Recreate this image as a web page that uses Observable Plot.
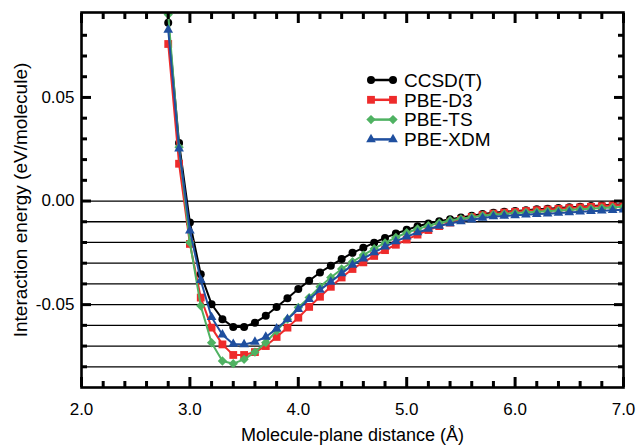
<!DOCTYPE html>
<html><head><meta charset="utf-8">
<script src="https://cdn.jsdelivr.net/npm/d3@7"></script>
<script src="https://cdn.jsdelivr.net/npm/@observablehq/plot@0.6"></script>
<style>
html,body{margin:0;padding:0;background:#fff;}
#chart svg{display:block;}
</style>
</head><body><div id="chart"></div>
<script>
// ---------- data ----------
const distance = [2.8, 2.9, 3.0, 3.1, 3.2, 3.3, 3.4, 3.5, 3.6, 3.7, 3.8, 3.9,
  4.0, 4.1, 4.2, 4.3, 4.4, 4.5, 4.6, 4.7, 4.8, 4.9,
  5.0, 5.1, 5.2, 5.3, 5.4, 5.5, 5.6, 5.7, 5.8, 5.9,
  6.0, 6.1, 6.2, 6.3, 6.4, 6.5, 6.6, 6.7, 6.8, 6.9, 7.0];
const seriesNames = ["CCSD(T)", "PBE-D3", "PBE-TS", "PBE-XDM"];
const ccsdt = [0.0861, 0.0280, -0.0103, -0.0353, -0.0498, -0.0570, -0.0608, -0.0608, -0.0587, -0.0554, -0.0511, -0.0469,
  -0.0425, -0.0385, -0.0345, -0.0312, -0.0280, -0.0250, -0.0226, -0.0201, -0.0178, -0.0157,
  -0.0139, -0.0122, -0.0108, -0.0097, -0.0088, -0.0079, -0.0071, -0.0063, -0.0057, -0.0052,
  -0.0048, -0.0044, -0.0040, -0.0037, -0.0034, -0.0030, -0.0027, -0.0024, -0.0021, -0.0018, -0.0015];
const pbeD3 = [0.0758, 0.0180, -0.0207, -0.0466, -0.0611, -0.0692, -0.0743, -0.0743, -0.0729, -0.0700, -0.0656, -0.0611,
  -0.0563, -0.0511, -0.0462, -0.0414, -0.0369, -0.0328, -0.0296, -0.0265, -0.0237, -0.0211,
  -0.0186, -0.0162, -0.0140, -0.0121, -0.0104, -0.0090, -0.0077, -0.0068, -0.0061, -0.0056,
  -0.0052, -0.0048, -0.0044, -0.0041, -0.0038, -0.0034, -0.0031, -0.0028, -0.0025, -0.0022, -0.0019];
const pbeTS = [0.0900, 0.0260, -0.0200, -0.0506, -0.0684, -0.0772, -0.0785, -0.0764, -0.0729, -0.0683, -0.0627, -0.0570,
  -0.0514, -0.0466, -0.0414, -0.0369, -0.0328, -0.0293, -0.0261, -0.0230, -0.0202, -0.0176,
  -0.0153, -0.0135, -0.0119, -0.0106, -0.0094, -0.0086, -0.0078, -0.0071, -0.0065, -0.0062,
  -0.0058, -0.0055, -0.0052, -0.0049, -0.0046, -0.0043, -0.0040, -0.0037, -0.0034, -0.0031, -0.0028];
const pbeXDM = [0.0826, 0.0253, -0.0143, -0.0382, -0.0561, -0.0645, -0.0690, -0.0692, -0.0680, -0.0656, -0.0616, -0.0570,
  -0.0522, -0.0474, -0.0429, -0.0390, -0.0349, -0.0308, -0.0278, -0.0248, -0.0220, -0.0195,
  -0.0172, -0.0152, -0.0135, -0.0120, -0.0108, -0.0098, -0.0090, -0.0082, -0.0075, -0.0072,
  -0.0069, -0.0066, -0.0063, -0.0061, -0.0058, -0.0055, -0.0052, -0.0049, -0.0047, -0.0044, -0.0042];
const gridLines = [0, -0.01, -0.02, -0.03, -0.04, -0.05, -0.06, -0.07, -0.08];
const xMajor = [2, 3, 4, 5, 6, 7];
const xMinor = [2.2, 2.4, 2.6, 2.8, 3.2, 3.4, 3.6, 3.8, 4.2, 4.4, 4.6, 4.8, 5.2, 5.4, 5.6, 5.8, 6.2, 6.4, 6.6, 6.8];
const yMajor = [-0.05, 0, 0.05];
const yMinor = [-0.08, -0.07, -0.06, -0.04, -0.03, -0.02, -0.01, 0.01, 0.02, 0.03, 0.04, 0.06, 0.07, 0.08];
const xLabel = "Molecule-plane distance (Å)";
const yLabel = "Interaction energy (eV/molecule)";

// ---------- style ----------
const W = 638, H = 445;
const mL = 81, mR = 15, mT = 12, mB = 58;
const xDom = [2, 7], yDom = [-0.09, 0.091];
const FONT = "'Liberation Sans', Arial, Helvetica, sans-serif";
const styles = [
  {values: ccsdt, color: "#000000", symbol: "circle", r: 4},
  {values: pbeD3, color: "#ee2b2b", symbol: "square", r: 4.4},
  {values: pbeTS, color: "#4fb262", symbol: "diamond2", r: 4.2},
  {values: pbeXDM, color: "#1f4f9f", symbol: "triangle", r: 3.6}
];
const series = seriesNames.map((name, k) => ({name, ...styles[k]}));

const marks = [Plot.ruleY(gridLines, {stroke: "black", strokeWidth: 1.3})];
for (const s of series) {
  const rows = distance.map((d, i) => ({d, e: s.values[i]}));
  marks.push(Plot.line(rows, {x: "d", y: "e", stroke: s.color, strokeWidth: 2, clip: true}));
  marks.push(Plot.dot(rows, {x: "d", y: "e", symbol: s.symbol, r: s.r, fill: s.color, stroke: "none", clip: true}));
}
// inward ticks on all four sides (negative tickSize points into the frame)
const tickOnly = {tickFormat: () => "", label: null, stroke: "#000", strokeWidth: 3};
const MAJ = 10, MIN = 6;
marks.push(
  Plot.frame({stroke: "black", strokeWidth: 2.6}),
  Plot.axisX({anchor: "bottom", ticks: xMajor, tickSize: -MAJ, ...tickOnly}),
  Plot.axisX({anchor: "bottom", ticks: xMinor, tickSize: -MIN, ...tickOnly}),
  Plot.axisX({anchor: "top", ticks: xMajor, tickSize: -MAJ, ...tickOnly}),
  Plot.axisX({anchor: "top", ticks: xMinor, tickSize: -MIN, ...tickOnly}),
  Plot.axisY({anchor: "left", ticks: yMajor, tickSize: -MAJ, ...tickOnly}),
  Plot.axisY({anchor: "left", ticks: yMinor, tickSize: -MIN, ...tickOnly}),
  Plot.axisY({anchor: "right", ticks: yMajor, tickSize: -MAJ, ...tickOnly}),
  Plot.axisY({anchor: "right", ticks: yMinor, tickSize: -MIN, ...tickOnly}),
  Plot.axisX({anchor: "bottom", ticks: xMajor, tickSize: 0, tickPadding: 15, tickFormat: d => d.toFixed(1), fontSize: 17, label: null}),
  Plot.axisY({anchor: "left", ticks: yMajor, tickSize: 0, tickPadding: 7, tickFormat: d => d.toFixed(2), fontSize: 17, label: null}),
  Plot.text([xLabel], {text: d => d, frameAnchor: "bottom", textAnchor: "middle", lineAnchor: "middle", dy: 48, fontSize: 18, fill: "black"}),
  Plot.text([yLabel], {text: d => d, frameAnchor: "left", textAnchor: "middle", lineAnchor: "middle", rotate: -90, dx: -61, fontSize: 19, fill: "black"})
);

const plot = Plot.plot({
  width: W, height: H,
  marginLeft: mL, marginRight: mR, marginTop: mT, marginBottom: mB,
  style: {fontFamily: FONT, fontSize: "17px", color: "black", background: "white"},
  x: {domain: xDom},
  y: {domain: yDom},
  marks
});

// legend inside plot area
const svg = d3.select(plot);
const lg = svg.append("g").attr("font-family", FONT).attr("font-size", 19).attr("text-anchor", "start");
const symMap = {circle: d3.symbolCircle, square: d3.symbolSquare, diamond2: d3.symbolDiamond2, triangle: d3.symbolTriangle};
series.forEach((s, i) => {
  const y = 80 + i * 19.8;
  const g = lg.append("g");
  g.append("line").attr("x1", 371).attr("x2", 393).attr("y1", y).attr("y2", y)
    .attr("stroke", s.color).attr("stroke-width", 2.5);
  for (const x of [371, 393]) {
    g.append("path").attr("d", d3.symbol(symMap[s.symbol], Math.PI * s.r * s.r)())
      .attr("transform", `translate(${x},${y})`).attr("fill", s.color);
  }
  g.append("text").attr("x", 404).attr("y", y).attr("dy", "0.36em").attr("fill", "black").text(s.name);
});

document.getElementById("chart").appendChild(plot);
</script>
</body></html>
